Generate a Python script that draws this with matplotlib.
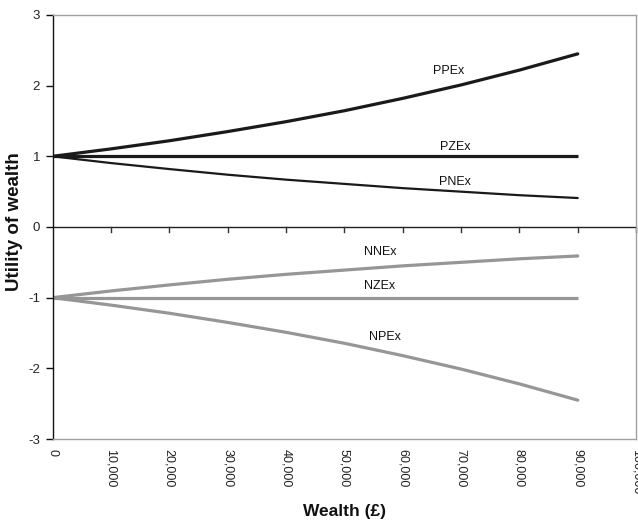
import matplotlib
matplotlib.use("Agg")
import matplotlib.pyplot as plt

plt.rcParams['font.family'] = ['Liberation Sans', 'DejaVu Sans']

wealth = [0, 10000, 20000, 30000, 40000, 50000, 60000, 70000, 80000, 90000]
ppex = [1.0, 1.105, 1.22, 1.35, 1.49, 1.645, 1.82, 2.01, 2.22, 2.45]
pzex = [1.0] * 10
pnex = [1.0, 0.905, 0.82, 0.74, 0.67, 0.61, 0.55, 0.50, 0.45, 0.41]
nnex = [-1.0, -0.905, -0.82, -0.74, -0.67, -0.61, -0.55, -0.50, -0.45, -0.41]
nzex = [-1.0] * 10
npex = [-1.0, -1.105, -1.22, -1.35, -1.49, -1.645, -1.82, -2.01, -2.22, -2.45]

xticks = [0, 10000, 20000, 30000, 40000, 50000, 60000, 70000, 80000, 90000, 100000]
xticklabels = ['0', '10,000', '20,000', '30,000', '40,000', '50,000', '60,000',
               '70,000', '80,000', '90,000', '100,000']
yticks = [-3, -2, -1, 0, 1, 2, 3]

fig = plt.figure(figsize=(6.38, 5.24), dpi=100)
ax = fig.add_axes([0.0823, 0.1622, 0.9147, 0.8092])

dark = '#1a1a1a'
grey = '#969696'
ax.plot(wealth, ppex, color=dark, lw=2.3, solid_capstyle='round')
ax.plot(wealth, pzex, color=dark, lw=2.3, solid_capstyle='butt')
ax.plot(wealth, pnex, color=dark, lw=1.6, solid_capstyle='round')
ax.plot(wealth, nnex, color=grey, lw=2.3, solid_capstyle='round')
ax.plot(wealth, nzex, color=grey, lw=2.3, solid_capstyle='butt')
ax.plot(wealth, npex, color=grey, lw=2.3, solid_capstyle='round')

labels = [('PPEx', 67800, 2.21), ('PZEx', 69000, 1.13), ('PNEx', 69000, 0.64),
          ('NNEx', 56100, -0.35), ('NZEx', 56100, -0.83), ('NPEx', 57000, -1.56)]
for t, x, y in labels:
    ax.text(x, y, t, fontsize=9, ha='center', va='center', color='#111111')

ax.set_xlim(0, 100000)
ax.set_ylim(-3, 3)

# spines
for s in ['top', 'right', 'bottom']:
    ax.spines[s].set_color('#a0a0a0')
    ax.spines[s].set_linewidth(1.0)
ax.spines['left'].set_color('#111111')
ax.spines['left'].set_linewidth(1.0)

# horizontal axis at y=0 with downward ticks
ax.axhline(0, color='#222222', lw=1.0, zorder=1)
for xt in xticks[1:]:
    ax.plot([xt, xt], [0, -0.065], color='#333333', lw=1.0, zorder=1,
            clip_on=False)

ax.set_yticks(yticks)
ax.set_yticklabels([str(v) for v in yticks], fontsize=9.5, color='#222222')
ax.tick_params(axis='y', direction='out', length=5, width=1.0, color='#111111', pad=4)

ax.set_xticks(xticks)
ax.set_xticklabels(xticklabels, rotation=270, fontsize=9, color='#222222')
ax.tick_params(axis='x', length=0, pad=7)

fig.text(15 / 638, 1 - 222 / 524, 'Utility of wealth', rotation=90,
         fontsize=13.5, fontweight='bold', ha='center', va='center', color='#111111')
ax.set_xlabel('Wealth (£)', fontsize=12.5, fontweight='bold', labelpad=7, color='#111111')

fig.savefig('out.png', dpi=100)
